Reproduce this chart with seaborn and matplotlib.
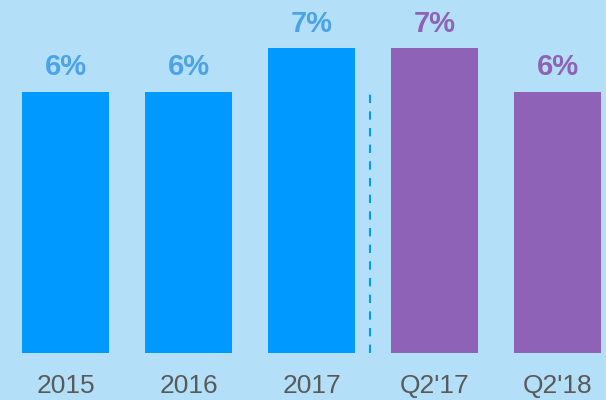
import matplotlib
matplotlib.use('Agg')
import matplotlib.pyplot as plt
import seaborn as sns
import pandas as pd

# data
periods = ["2015", "2016", "2017", "Q2'17", "Q2'18"]
rates = [6, 6, 7, 7, 6]
bar_colors = ["#0099ff", "#0099ff", "#0099ff", "#8e63b7", "#8e63b7"]
label_colors = ["#4da3e8", "#4da3e8", "#4da3e8", "#8e63b7", "#8e63b7"]

df = pd.DataFrame({"period": periods, "rate": rates})

sns.set_style("white")
plt.rcParams['font.family'] = ['Liberation Sans', 'DejaVu Sans']

fig = plt.figure(figsize=(6.06, 4.0), dpi=100)
fig.patch.set_facecolor("#b3e0f8")
ax = fig.add_axes([0, (400 - 353) / 400, 1, 353 / 400])
ax.set_facecolor("#b3e0f8")

sns.barplot(data=df, x="period", y="rate", hue="period", palette=bar_colors,
            legend=False, width=0.707, saturation=1, linewidth=0, ax=ax)

# percentage labels above bars
for i, (v, c) in enumerate(zip(rates, label_colors)):
    ax.text(i, v + 0.37, f"{v}%", ha="center", va="baseline",
            fontsize=21, fontweight="bold", color=c)

# dashed divider between annual and quarterly figures
ax.vlines(2.476, 0, 6.03, colors="#0099ff", linestyles=(0, (4, 4)), linewidth=1.5)

ax.set_xlim(-0.5325, 4.394)
ax.set_ylim(0, 8.1)
ax.set_xlabel("")
ax.set_ylabel("")
ax.set_yticks([])
ax.tick_params(axis="x", length=0, pad=15, labelsize=19, labelcolor="#5a5a5a")
for s in ax.spines.values():
    s.set_visible(False)

fig.savefig("out.png", dpi=100, facecolor=fig.get_facecolor())
